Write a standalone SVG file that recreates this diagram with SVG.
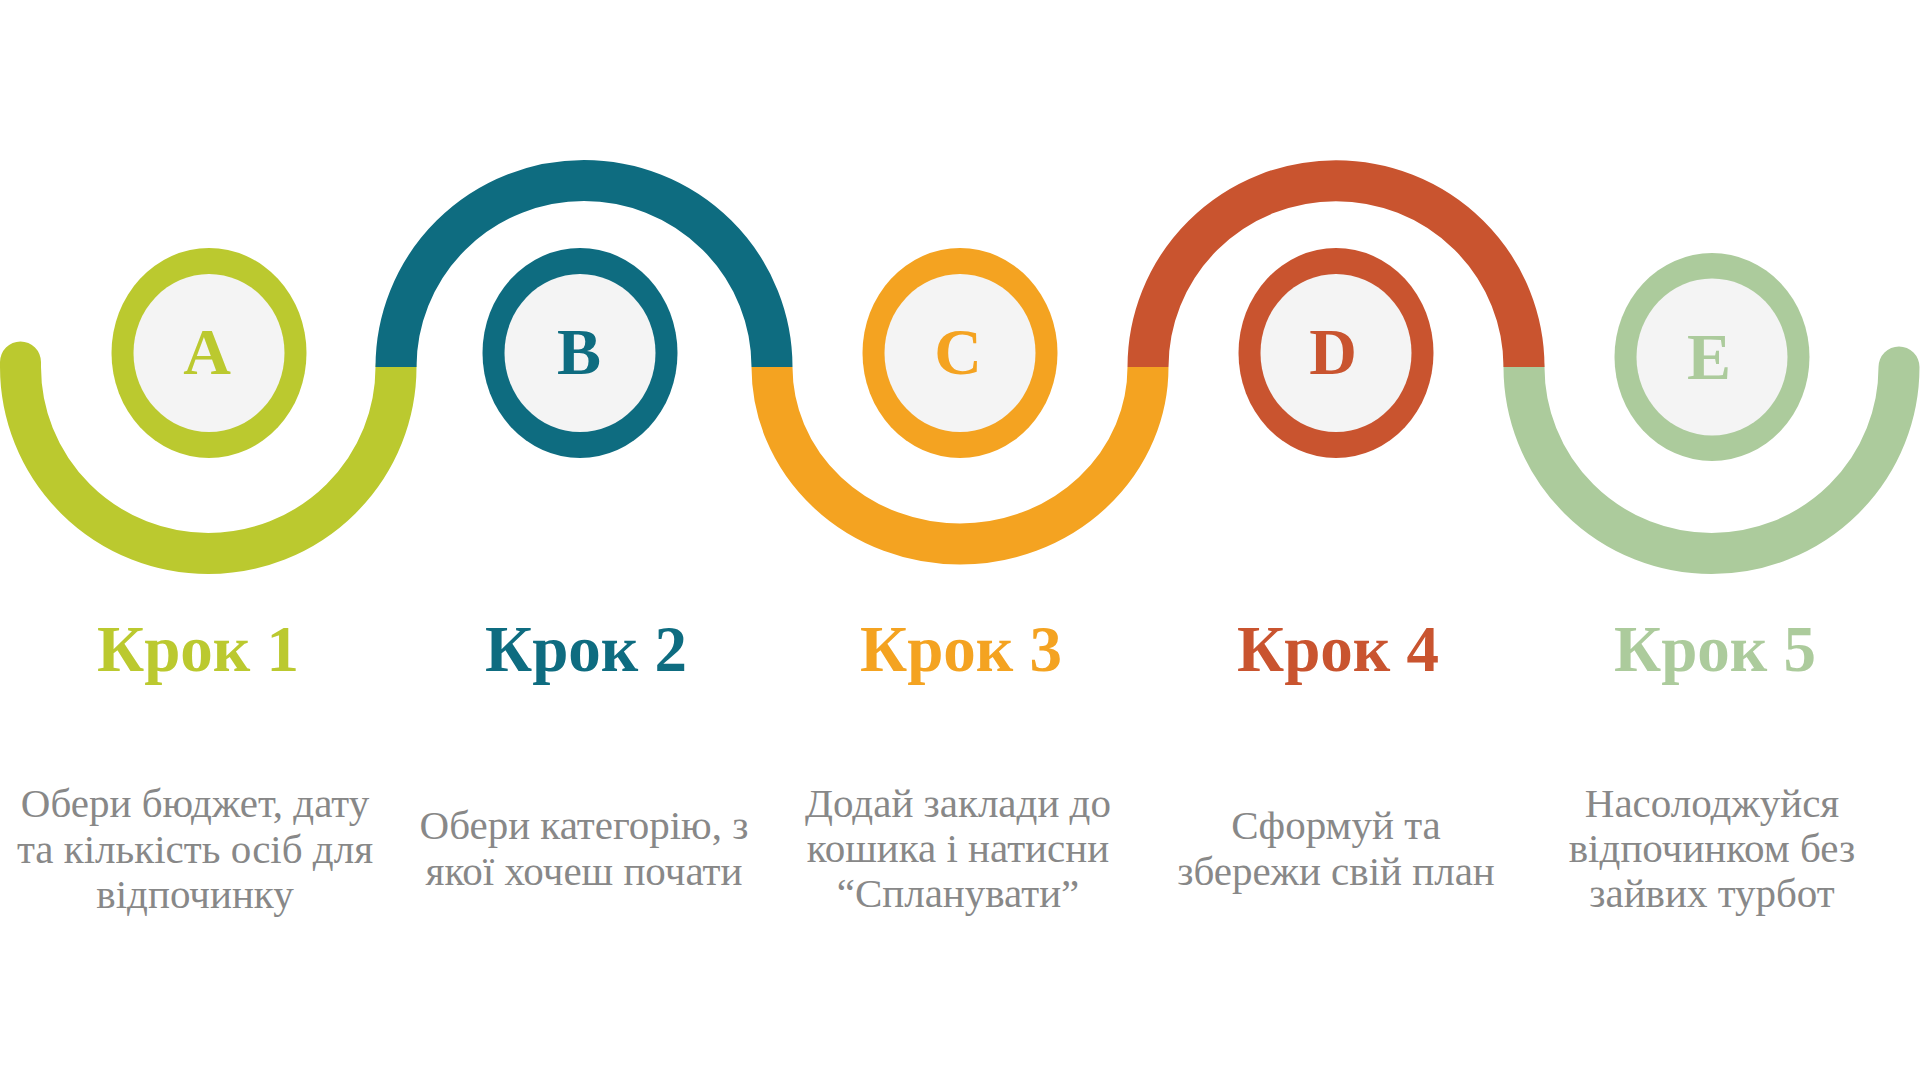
<svg xmlns="http://www.w3.org/2000/svg" width="1920" height="1080" viewBox="0 0 1920 1080">
  <style>
    .wave { fill: none; stroke-width: 41; }
    .inner { fill: #F4F4F4; }
    .letter { font-family: "Liberation Serif", "DejaVu Serif", serif; font-weight: bold; font-size: 66px; text-anchor: middle; }
    .title { font-family: "Liberation Serif", "DejaVu Serif", serif; font-weight: bold; font-size: 65px; text-anchor: middle; }
    .desc { font-family: "Liberation Serif", "DejaVu Serif", serif; font-size: 41px; fill: #888888; text-anchor: middle; }
    .c1 { fill: #BBC92F; } .s1 { stroke: #BBC92F; }
    .c2 { fill: #0E6C80; } .s2 { stroke: #0E6C80; }
    .c3 { fill: #F4A321; } .s3 { stroke: #F4A321; }
    .c4 { fill: #C9542F; } .s4 { stroke: #C9542F; }
    .c5 { fill: #ACCB9C; } .s5 { stroke: #ACCB9C; }
  </style>
  <rect width="1920" height="1080" fill="#FFFFFF"/>

  <g id="connectors">
    <path class="wave s1" stroke-linecap="round" d="M 20.5 362 L 20.5 367 A 187.75 186.5 0 0 0 396 367"/>
    <path class="wave s2" d="M 396 367 A 188 186.5 0 0 1 772 367"/>
    <path class="wave s3" d="M 772 367 A 188 177 0 0 0 1148 367"/>
    <path class="wave s5" stroke-linecap="round" d="M 1524 367 A 187.5 186.5 0 0 0 1899 367"/>
    <path class="wave s4" d="M 1148 367 A 188 186.5 0 0 1 1524 367"/>
  </g>

  <g id="node-a">
    <ellipse class="c1" cx="209" cy="353" rx="97.5" ry="105"/>
    <ellipse class="inner" cx="209" cy="353" rx="75.5" ry="79"/>
    <text class="letter c1" x="207" y="374">A</text>
  </g>
  <g id="node-b">
    <ellipse class="c2" cx="580" cy="353" rx="97.5" ry="105"/>
    <ellipse class="inner" cx="580" cy="353" rx="75.5" ry="79"/>
    <text class="letter c2" x="579" y="374">B</text>
  </g>
  <g id="node-c">
    <ellipse class="c3" cx="960" cy="353" rx="97.5" ry="105"/>
    <ellipse class="inner" cx="960" cy="353" rx="75.5" ry="79"/>
    <text class="letter c3" x="958" y="374">C</text>
  </g>
  <g id="node-d">
    <ellipse class="c4" cx="1336" cy="353" rx="97.5" ry="105"/>
    <ellipse class="inner" cx="1336" cy="353" rx="75.5" ry="79"/>
    <text class="letter c4" x="1333" y="374">D</text>
  </g>
  <g id="node-e">
    <ellipse class="c5" cx="1712" cy="357" rx="97.5" ry="104"/>
    <ellipse class="inner" cx="1712" cy="357" rx="75.5" ry="78.5"/>
    <text class="letter c5" x="1709" y="378.5">E</text>
  </g>

  <g id="step-1">
    <text class="title c1" x="198" y="671">Крок 1</text>
    <text class="desc" x="195" y="817">Обери бюджет, дату</text>
    <text class="desc" x="195" y="862.5">та кількість осіб для</text>
    <text class="desc" x="195" y="908">відпочинку</text>
  </g>
  <g id="step-2">
    <text class="title c2" x="586" y="671">Крок 2</text>
    <text class="desc" x="584" y="839">Обери категорію, з</text>
    <text class="desc" x="584" y="885">якої хочеш почати</text>
  </g>
  <g id="step-3">
    <text class="title c3" x="961" y="671">Крок 3</text>
    <text class="desc" x="958" y="817">Додай заклади до</text>
    <text class="desc" x="958" y="862">кошика і натисни</text>
    <text class="desc" x="958" y="907">“Спланувати”</text>
  </g>
  <g id="step-4">
    <text class="title c4" x="1338" y="671">Крок 4</text>
    <text class="desc" x="1336" y="839">Сформуй та</text>
    <text class="desc" x="1336" y="885">збережи свій план</text>
  </g>
  <g id="step-5">
    <text class="title c5" x="1715" y="671">Крок 5</text>
    <text class="desc" x="1712" y="817">Насолоджуйся</text>
    <text class="desc" x="1712" y="862">відпочинком без</text>
    <text class="desc" x="1712" y="907">зайвих турбот</text>
  </g>
</svg>
